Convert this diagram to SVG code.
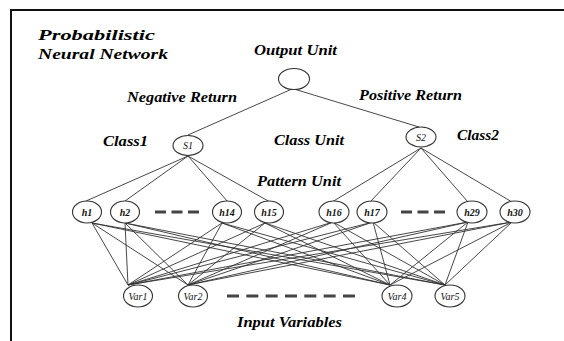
<svg xmlns="http://www.w3.org/2000/svg" width="564" height="341" viewBox="0 0 564 341">
<style>
.lbl{font-family:'Liberation Serif','DejaVu Serif',serif;font-style:italic;font-weight:bold;font-size:14px;fill:#000}
.nd{fill:#fff;stroke:#333;stroke-width:1.1}
.nl{font-family:'Liberation Serif','DejaVu Serif',serif;font-style:italic;font-size:10px;fill:#111;text-anchor:middle}
.hb{font-weight:bold}
.cn line{stroke:#333;stroke-width:0.9}
.dash{stroke:#444;stroke-width:3;fill:none}
</style>
<rect width="564" height="341" fill="#fff"/>
<path d="M11,345 V10 H570" fill="none" stroke="#111" stroke-width="2"/>
<text class="lbl" x="38" y="40" textLength="117" lengthAdjust="spacingAndGlyphs">Probabilistic</text>
<text class="lbl" x="38" y="59" textLength="130" lengthAdjust="spacingAndGlyphs">Neural Network</text>
<text class="lbl" x="254" y="55" textLength="83" lengthAdjust="spacingAndGlyphs">Output Unit</text>
<text class="lbl" x="127" y="102" textLength="110" lengthAdjust="spacingAndGlyphs">Negative Return</text>
<text class="lbl" x="359" y="99.5" textLength="103" lengthAdjust="spacingAndGlyphs">Positive Return</text>
<text class="lbl" x="103" y="146" textLength="45" lengthAdjust="spacingAndGlyphs">Class1</text>
<text class="lbl" x="274" y="145" textLength="70" lengthAdjust="spacingAndGlyphs">Class Unit</text>
<text class="lbl" x="457" y="140" textLength="42" lengthAdjust="spacingAndGlyphs">Class2</text>
<text class="lbl" x="257" y="186" textLength="84" lengthAdjust="spacingAndGlyphs">Pattern Unit</text>
<text class="lbl" x="237" y="327" textLength="105" lengthAdjust="spacingAndGlyphs">Input Variables</text>
<g id="connectors" class="cn">
<line x1="292" y1="89" x2="188" y2="135"/>
<line x1="294" y1="89" x2="419" y2="127"/>
<line x1="188" y1="156" x2="86" y2="201"/>
<line x1="188" y1="156" x2="125" y2="201"/>
<line x1="188" y1="156" x2="228" y2="202"/>
<line x1="188" y1="156" x2="270" y2="202"/>
<line x1="421" y1="148" x2="332" y2="202"/>
<line x1="421" y1="148" x2="370" y2="202"/>
<line x1="421" y1="148" x2="468" y2="202"/>
<line x1="421" y1="148" x2="512" y2="202"/>
<line x1="92" y1="223" x2="128" y2="285"/><line x1="92" y1="223" x2="188" y2="285"/><line x1="92" y1="223" x2="390" y2="285"/><line x1="92" y1="223" x2="445" y2="285"/>
<line x1="125" y1="223" x2="128" y2="285"/><line x1="125" y1="223" x2="188" y2="285"/><line x1="125" y1="223" x2="390" y2="285"/><line x1="125" y1="223" x2="445" y2="285"/>
<line x1="222" y1="223" x2="128" y2="285"/><line x1="222" y1="223" x2="188" y2="285"/><line x1="222" y1="223" x2="390" y2="285"/><line x1="222" y1="223" x2="445" y2="285"/>
<line x1="265" y1="223" x2="128" y2="285"/><line x1="265" y1="223" x2="188" y2="285"/><line x1="265" y1="223" x2="390" y2="285"/><line x1="265" y1="223" x2="445" y2="285"/>
<line x1="333" y1="222" x2="128" y2="285"/><line x1="333" y1="222" x2="188" y2="285"/><line x1="333" y1="222" x2="390" y2="285"/><line x1="333" y1="222" x2="445" y2="285"/>
<line x1="373" y1="222" x2="128" y2="285"/><line x1="373" y1="222" x2="188" y2="285"/><line x1="373" y1="222" x2="390" y2="285"/><line x1="373" y1="222" x2="445" y2="285"/>
<line x1="468" y1="222" x2="128" y2="285"/><line x1="468" y1="222" x2="188" y2="285"/><line x1="468" y1="222" x2="390" y2="285"/><line x1="468" y1="222" x2="445" y2="285"/>
<line x1="512" y1="222" x2="128" y2="285"/><line x1="512" y1="222" x2="188" y2="285"/><line x1="512" y1="222" x2="390" y2="285"/><line x1="512" y1="222" x2="445" y2="285"/>
</g>
<line class="dash" x1="155" y1="212" x2="199" y2="212" stroke-dasharray="11,5.5"/>
<line class="dash" x1="401" y1="212" x2="445" y2="212" stroke-dasharray="11,5.5"/>
<line class="dash" x1="227" y1="296" x2="355" y2="296" stroke-dasharray="12,7.33"/>
<g id="output"><ellipse class="nd" cx="294" cy="79" rx="15.5" ry="10.5"/></g>
<g id="s1"><ellipse class="nd" cx="188" cy="145.5" rx="15" ry="10"/><text class="nl" x="188" y="149">S1</text></g>
<g id="s2"><ellipse class="nd" cx="421" cy="137" rx="15" ry="10"/><text class="nl" x="421" y="140.5">S2</text></g>
<g id="h1"><ellipse class="nd" cx="87" cy="212" rx="14.5" ry="11"/><text class="nl hb" x="87" y="215.5">h1</text></g>
<g id="h2"><ellipse class="nd" cx="125" cy="212" rx="14.5" ry="11"/><text class="nl hb" x="125" y="215.5">h2</text></g>
<g id="h14"><ellipse class="nd" cx="227" cy="212" rx="14.5" ry="11"/><text class="nl hb" x="227" y="215.5">h14</text></g>
<g id="h15"><ellipse class="nd" cx="269" cy="212" rx="14.5" ry="11"/><text class="nl hb" x="269" y="215.5">h15</text></g>
<g id="h16"><ellipse class="nd" cx="334" cy="212" rx="15" ry="11"/><text class="nl hb" x="334" y="215.5">h16</text></g>
<g id="h17"><ellipse class="nd" cx="372" cy="212" rx="15" ry="11"/><text class="nl hb" x="372" y="215.5">h17</text></g>
<g id="h29"><ellipse class="nd" cx="472" cy="212" rx="15" ry="11"/><text class="nl hb" x="472" y="215.5">h29</text></g>
<g id="h30"><ellipse class="nd" cx="515" cy="212" rx="15" ry="11"/><text class="nl hb" x="515" y="215.5">h30</text></g>
<g id="var1"><ellipse class="nd" cx="138" cy="296" rx="14.5" ry="11"/><text class="nl" x="138" y="299.5" font-size="9">Var1</text></g>
<g id="var2"><ellipse class="nd" cx="193" cy="296" rx="14.5" ry="11"/><text class="nl" x="193" y="299.5" font-size="9">Var2</text></g>
<g id="var4"><ellipse class="nd" cx="397" cy="296" rx="15" ry="11"/><text class="nl" x="397" y="299.5" font-size="9">Var4</text></g>
<g id="var5"><ellipse class="nd" cx="450" cy="296" rx="15" ry="11"/><text class="nl" x="450" y="299.5" font-size="9">Var5</text></g>
</svg>
